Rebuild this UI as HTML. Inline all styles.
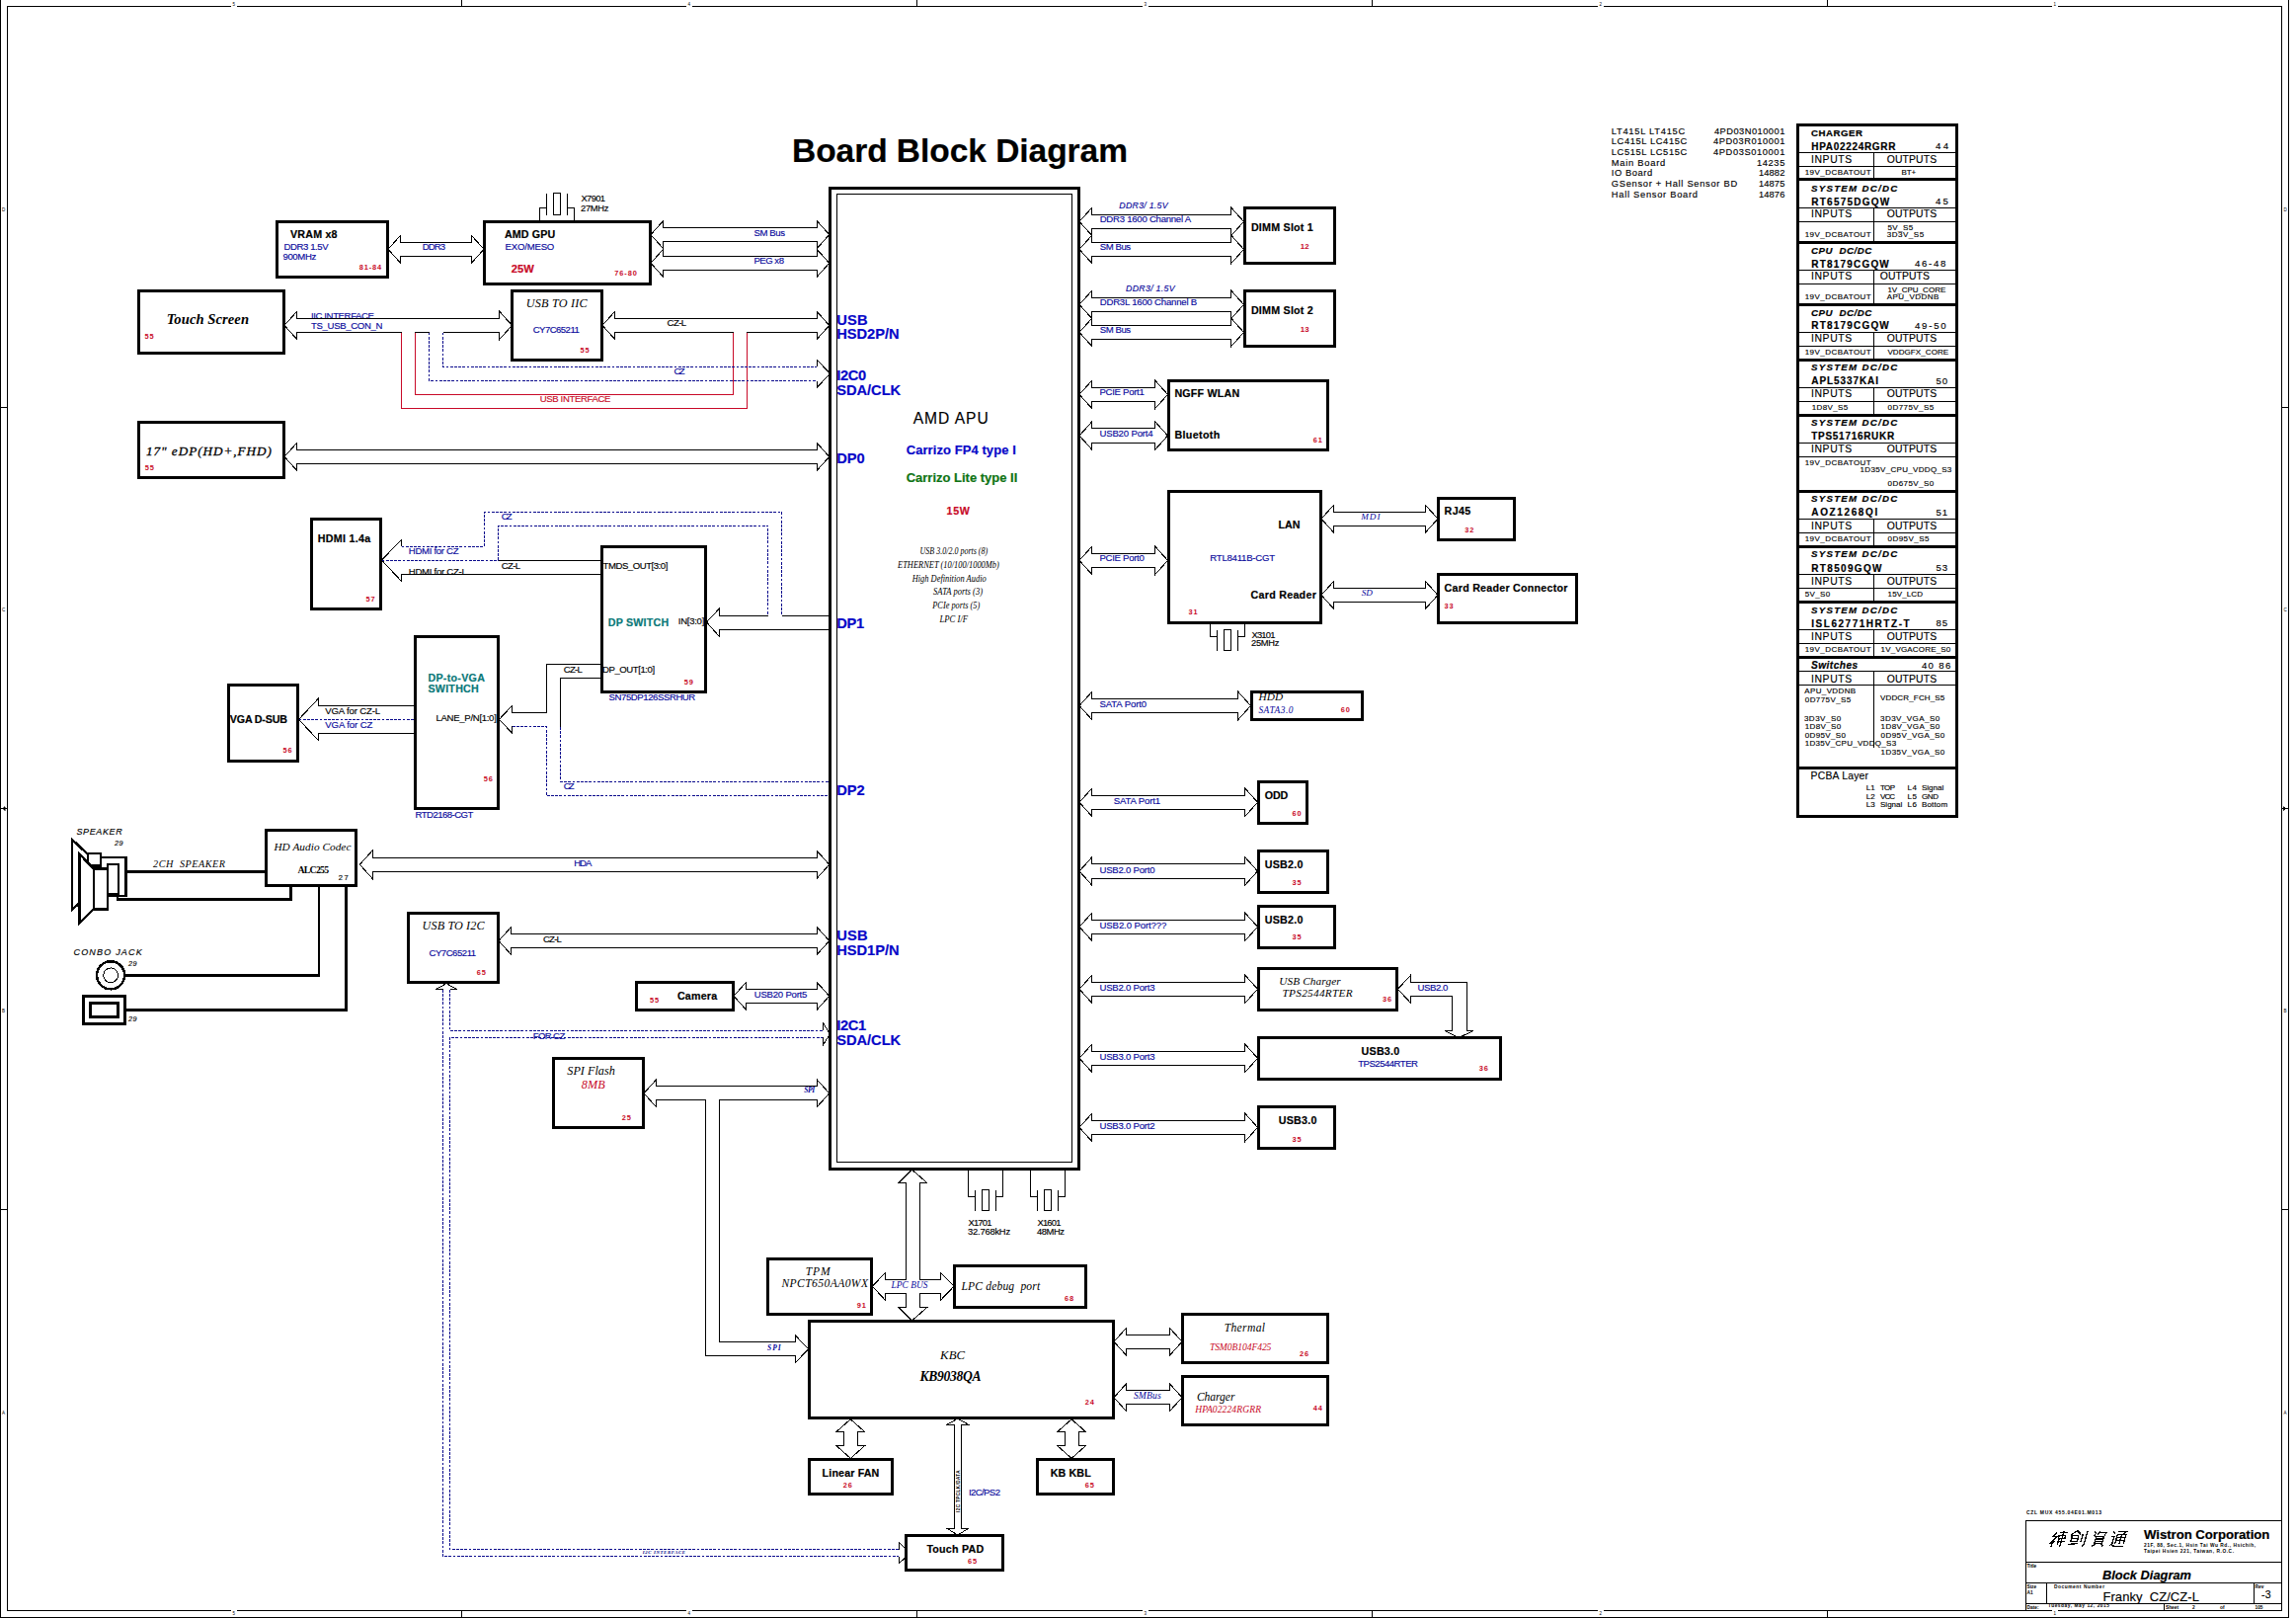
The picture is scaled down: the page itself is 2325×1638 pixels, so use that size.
<!DOCTYPE html>
<html><head><meta charset="utf-8"><title>Board Block Diagram</title>
<style>
html,body{margin:0;padding:0;background:#fff;}
svg{display:block;}
text{white-space:pre;}
.a{font-family:"Liberation Sans",sans-serif;}
.r{font-family:"Liberation Serif",serif;}
</style></head><body>
<svg width="2325" height="1638" viewBox="0 0 2325 1638" shape-rendering="crispEdges">
<rect width="2325" height="1638" fill="#fff"/>
<rect x="7.5" y="6.5" width="2303" height="1624" fill="none" stroke="#000" stroke-width="1"/>
<path d="M0.5,0 V1637.5 H2317.5 V0" fill="none" stroke="#000" stroke-width="1"/>
<path d="M467.5,0 V6.5 M467.5,1630.5 V1637.5" fill="none" stroke="#000" stroke-width="1"/>
<path d="M928.5,0 V6.5 M928.5,1630.5 V1637.5" fill="none" stroke="#000" stroke-width="1"/>
<path d="M1389.5,0 V6.5 M1389.5,1630.5 V1637.5" fill="none" stroke="#000" stroke-width="1"/>
<path d="M1850.5,0 V6.5 M1850.5,1630.5 V1637.5" fill="none" stroke="#000" stroke-width="1"/>
<path d="M0,412.5 H7.5 M2310.5,412.5 H2317.5" fill="none" stroke="#000" stroke-width="1"/>
<path d="M0,1224.5 H7.5 M2310.5,1224.5 H2317.5" fill="none" stroke="#000" stroke-width="1"/>
<path d="M0,818.5 H7.5 M2310.5,818.5 H2317.5" fill="none" stroke="#000" stroke-width="1"/>
<path d="M2,818.5 l3,-2 v4 z M2315,818.5 l-3,-2 v4 z" fill="#000" stroke="#000" stroke-width="0.5"/>
<rect x="234" y="5" width="6" height="3" fill="#fff"/><rect x="234" y="1629" width="6" height="3" fill="#fff"/>
<text x="235.5" y="5.5" class="a" font-size="4.5">5</text>
<text x="235.5" y="1634.5" class="a" font-size="4.5">5</text>
<rect x="695" y="5" width="6" height="3" fill="#fff"/><rect x="695" y="1629" width="6" height="3" fill="#fff"/>
<text x="696.5" y="5.5" class="a" font-size="4.5">4</text>
<text x="696.5" y="1634.5" class="a" font-size="4.5">4</text>
<rect x="1157" y="5" width="6" height="3" fill="#fff"/><rect x="1157" y="1629" width="6" height="3" fill="#fff"/>
<text x="1158.5" y="5.5" class="a" font-size="4.5">3</text>
<text x="1158.5" y="1634.5" class="a" font-size="4.5">3</text>
<rect x="1618" y="5" width="6" height="3" fill="#fff"/><rect x="1618" y="1629" width="6" height="3" fill="#fff"/>
<text x="1619.5" y="5.5" class="a" font-size="4.5">2</text>
<text x="1619.5" y="1634.5" class="a" font-size="4.5">2</text>
<rect x="2078" y="5" width="6" height="3" fill="#fff"/><rect x="2078" y="1629" width="6" height="3" fill="#fff"/>
<text x="2079.5" y="5.5" class="a" font-size="4.5">1</text>
<text x="2079.5" y="1634.5" class="a" font-size="4.5">1</text>
<text x="2.0" y="213.5" class="a" font-size="4.5">D</text>
<text x="2312.5" y="213.5" class="a" font-size="4.5">D</text>
<text x="2.0" y="618.5" class="a" font-size="4.5">C</text>
<text x="2312.5" y="618.5" class="a" font-size="4.5">C</text>
<text x="2.0" y="1024.5" class="a" font-size="4.5">B</text>
<text x="2312.5" y="1024.5" class="a" font-size="4.5">B</text>
<text x="2.0" y="1431.5" class="a" font-size="4.5">A</text>
<text x="2312.5" y="1431.5" class="a" font-size="4.5">A</text>
<text x="802.0" y="163.5" class="a" font-size="33.5" font-weight="bold" textLength="340.0" stroke="#000" stroke-width="0.2">Board Block Diagram</text>
<path d="M393.0,252.3 L405.8,238.1 L405.8,245.2 L477.2,245.2 L477.2,238.1 L490.0,252.3 L477.2,266.5 L477.2,259.4 L405.8,259.4 L405.8,266.5 Z" fill="#fff" stroke="#000" stroke-width="1"/>
<text x="427.7" y="252.6" class="a" font-size="9.6" fill="#0a0a9c" textLength="23.5" stroke="#0a0a9c" stroke-width="0.15">DDR3</text>
<path d="M659.0,237.6 L671.8,223.4 L671.8,230.5 L827.0,230.5 L827.0,223.4 L839.8,237.6 L827.0,251.8 L827.0,244.7 L671.8,244.7 L671.8,251.8 Z" fill="#fff" stroke="#000" stroke-width="1"/>
<path d="M659.0,266.3 L671.8,252.1 L671.8,259.2 L827.0,259.2 L827.0,252.1 L839.8,266.3 L827.0,280.5 L827.0,273.4 L671.8,273.4 L671.8,280.5 Z" fill="#fff" stroke="#000" stroke-width="1"/>
<text x="763.4" y="238.5" class="a" font-size="9.6" fill="#0a0a9c" textLength="31.7" stroke="#0a0a9c" stroke-width="0.15">SM Bus</text>
<text x="763.4" y="266.6" class="a" font-size="9.6" fill="#0a0a9c" textLength="30.6" stroke="#0a0a9c" stroke-width="0.15">PEG x8</text>
<path d="M546.5,224 V210.5 H553.5 M581.5,224 V210.5 H574.5 M553.5,195.5 V217.5 M574.5,195.5 V217.5" fill="none" stroke="#000" stroke-width="1"/>
<rect x="560.5" y="195.5" width="7.0" height="22.0" fill="none" stroke="#000" stroke-width="1"/>
<text x="588.5" y="203.8" class="a" font-size="9.4" textLength="24.5" stroke="#000" stroke-width="0.15">X7901</text>
<text x="588.0" y="213.7" class="a" font-size="9.4" textLength="28.5" stroke="#000" stroke-width="0.15">27MHz</text>
<rect x="280.5" y="224.5" width="112.0" height="56.0" fill="none" stroke="#000" stroke-width="3"/>
<text x="294.0" y="240.7" class="a" font-size="10.7" font-weight="bold" textLength="47.5" stroke="#000" stroke-width="0.2">VRAM x8</text>
<text x="287.4" y="252.6" class="a" font-size="9.6" fill="#0a0a9c" textLength="45.3" stroke="#0a0a9c" stroke-width="0.15">DDR3 1.5V</text>
<text x="286.5" y="262.5" class="a" font-size="9.6" fill="#0a0a9c" textLength="33.7" stroke="#0a0a9c" stroke-width="0.15">900MHz</text>
<text x="363.7" y="272.5" class="a" font-size="7.4" fill="#c80a28" font-weight="bold" letter-spacing="0.9">81-84</text>
<rect x="490.5" y="224.5" width="168.0" height="63.0" fill="none" stroke="#000" stroke-width="3"/>
<text x="510.9" y="240.7" class="a" font-size="10.7" font-weight="bold" textLength="51.3" stroke="#000" stroke-width="0.2">AMD GPU</text>
<text x="511.5" y="252.6" class="a" font-size="9.6" fill="#0a0a9c" textLength="49.8" stroke="#0a0a9c" stroke-width="0.15">EXO/MESO</text>
<text x="517.7" y="275.9" class="a" font-size="11.2" fill="#c80a28" font-weight="bold" textLength="23.2" stroke="#c80a28" stroke-width="0.2">25W</text>
<text x="622.3" y="279.4" class="a" font-size="7.4" fill="#c80a28" font-weight="bold" letter-spacing="0.9">76-80</text>
<path d="M300.8,343.6 L288,329.4 L300.8,315.2 V322.3 H505.7 V315.2 L518.5,329.4 L505.7,343.6 V336.5 H448.5 M434.9,336.5 H420.1 M406.7,336.5 H300.8 V343.6" fill="none" stroke="#000" stroke-width="1"/>
<text x="315.0" y="323.0" class="a" font-size="9.6" fill="#0a0a9c" textLength="64.0" stroke="#0a0a9c" stroke-width="0.15">IIC INTERFACE</text>
<path d="M300.8,322.3 H505.7" fill="none" stroke="#000" stroke-width="1"/>
<text x="315.0" y="332.9" class="a" font-size="9.6" fill="#0a0a9c" textLength="72.5" stroke="#0a0a9c" stroke-width="0.15">TS_USB_CON_N</text>
<path d="M622.8,343.6 L610,329.4 L622.8,315.2 V322.3 H827.0 V315.2 L839.8,329.4 L827.0,343.6 V336.5 H756.4 M742.5,336.5 H622.8 V343.6" fill="none" stroke="#000" stroke-width="1"/>
<text x="675.6" y="330.0" class="a" font-size="9.6" textLength="19.5" stroke="#000" stroke-width="0.15">CZ-L</text>
<path d="M406.7,336.5 V413.9 H756.4 V336.5" fill="none" stroke="#c80a28" stroke-width="1"/>
<path d="M420.1,336.5 V399.5 H742.5 V336.5" fill="none" stroke="#c80a28" stroke-width="1"/>
<text x="546.7" y="407.0" class="a" font-size="9.6" fill="#c80a28" textLength="71.8" stroke="#c80a28" stroke-width="0.15">USB INTERFACE</text>
<path d="M434.9,336.5 V385.5 H827" fill="none" stroke="#0a0a8c" stroke-width="1" stroke-dasharray="2.8 1.4"/>
<path d="M448.5,336.5 V371.2 H827" fill="none" stroke="#0a0a8c" stroke-width="1" stroke-dasharray="2.8 1.4"/>
<path d="M827.5,371.2 V364.3 L840.5,378.3 L827.5,392.2 V385.5" fill="none" stroke="#000" stroke-width="1"/>
<text x="682.6" y="379.1" class="a" font-size="9.6" fill="#0a0a9c" textLength="10.9" stroke="#0a0a9c" stroke-width="0.15">CZ</text>
<rect x="140.5" y="294.5" width="147.0" height="63.0" fill="none" stroke="#000" stroke-width="3"/>
<text x="168.7" y="327.7" class="r" font-size="14.6" font-weight="bold" font-style="italic" textLength="83.3">Touch Screen</text>
<text x="146.6" y="342.8" class="a" font-size="7.4" fill="#c80a28" font-weight="bold" letter-spacing="0.9">55</text>
<rect x="518.5" y="294.5" width="91.0" height="70.0" fill="none" stroke="#000" stroke-width="3"/>
<text x="532.8" y="310.8" class="r" font-size="12.2" font-style="italic" textLength="61.8">USB TO IIC</text>
<text x="539.7" y="336.9" class="a" font-size="9.6" fill="#0a0a9c" textLength="47.1" stroke="#0a0a9c" stroke-width="0.15">CY7C65211</text>
<text x="587.6" y="356.8" class="a" font-size="7.4" fill="#c80a28" font-weight="bold" letter-spacing="0.9">55</text>
<path d="M288.0,462.4 L300.8,448.2 L300.8,455.3 L827.0,455.3 L827.0,448.2 L839.8,462.4 L827.0,476.6 L827.0,469.5 L300.8,469.5 L300.8,476.6 Z" fill="#fff" stroke="#000" stroke-width="1"/>
<rect x="140.5" y="427.5" width="147.0" height="56.0" fill="none" stroke="#000" stroke-width="3"/>
<text x="148.0" y="460.7" class="r" font-size="13.2" font-style="italic" textLength="127.0" stroke="#000" stroke-width="0.3">17" eDP(HD+,FHD)</text>
<text x="146.7" y="475.8" class="a" font-size="7.4" fill="#c80a28" font-weight="bold" letter-spacing="0.9">55</text>
<path d="M406.6,553.1 V546.2 L386.5,567.1 L406.6,588.5 V581.4 H609" fill="none" stroke="#000" stroke-width="1"/>
<path d="M504.2,567.1 H609" fill="none" stroke="#000" stroke-width="1"/>
<path d="M406.6,553.1 H490.8 V518.3 H791.7 V623.3" fill="none" stroke="#0a0a8c" stroke-width="1" stroke-dasharray="2.8 1.4"/>
<path d="M386.5,567.1 H504.2 V532.4 H777.8 V623.3" fill="none" stroke="#0a0a8c" stroke-width="1" stroke-dasharray="2.8 1.4"/>
<text x="507.7" y="525.8" class="a" font-size="9.6" fill="#0a0a9c" textLength="10.9" stroke="#0a0a9c" stroke-width="0.15">CZ</text>
<text x="413.8" y="560.6" class="a" font-size="9.6" fill="#0a0a9c" textLength="50.8" stroke="#0a0a9c" stroke-width="0.15">HDMI for CZ</text>
<text x="507.7" y="575.8" class="a" font-size="9.6" textLength="19.5" stroke="#000" stroke-width="0.15">CZ-L</text>
<text x="413.8" y="582.4" class="a" font-size="9.6" textLength="59.0" stroke="#000" stroke-width="0.15">HDMI for CZ-L</text>
<path d="M406.6,581.4 H480" fill="none" stroke="#000" stroke-width="1"/>
<rect x="315.5" y="525.5" width="70.0" height="91.0" fill="none" stroke="#000" stroke-width="3"/>
<text x="321.8" y="548.8" class="a" font-size="10.7" font-weight="bold" textLength="53.5" stroke="#000" stroke-width="0.2">HDMI 1.4a</text>
<text x="370.6" y="608.9" class="a" font-size="7.4" fill="#c80a28" font-weight="bold" letter-spacing="0.9">57</text>
<path d="M791.7,623.3 H841 M841,637.6 H728.6 V644.6 L715.5,629.9 L728.6,615.9 V623.3 H777.8" fill="none" stroke="#000" stroke-width="1"/>
<rect x="609.5" y="553.5" width="105.0" height="147.0" fill="none" stroke="#000" stroke-width="3"/>
<text x="610.6" y="575.8" class="a" font-size="9.6" textLength="65.7" stroke="#000" stroke-width="0.15">TMDS_OUT[3:0]</text>
<text x="615.7" y="634.1" class="a" font-size="10.7" fill="#0a7878" font-weight="bold" textLength="61.5" stroke="#0a7878" stroke-width="0.2">DP SWITCH</text>
<text x="686.8" y="631.9" class="a" font-size="9.6" textLength="26.5" stroke="#000" stroke-width="0.15">IN[3:0]</text>
<text x="610.0" y="681.2" class="a" font-size="9.6" textLength="53.1" stroke="#000" stroke-width="0.15">DP_OUT[1:0]</text>
<text x="692.8" y="692.5" class="a" font-size="7.4" fill="#c80a28" font-weight="bold" letter-spacing="0.9">59</text>
<text x="616.6" y="708.7" class="a" font-size="9.6" fill="#0a0a9c" textLength="87.7" stroke="#0a0a9c" stroke-width="0.15">SN75DP126SSRHUR</text>
<path d="M609,672.4 H553.3 V721.1 H518.8 V714.1 L505.5,728.4 L518.8,742.4 V735.4" fill="none" stroke="#000" stroke-width="1"/>
<path d="M609,686.4 H567.3 V736" fill="none" stroke="#000" stroke-width="1"/>
<path d="M518.8,735.4 H553.3 V805.4 H841" fill="none" stroke="#0a0a8c" stroke-width="1" stroke-dasharray="2.8 1.4"/>
<path d="M567.3,736 V791 H841" fill="none" stroke="#0a0a8c" stroke-width="1" stroke-dasharray="2.8 1.4"/>
<text x="570.7" y="680.5" class="a" font-size="9.6" textLength="19.2" stroke="#000" stroke-width="0.15">CZ-L</text>
<text x="570.7" y="799.3" class="a" font-size="9.6" fill="#0a0a9c" textLength="10.9" stroke="#0a0a9c" stroke-width="0.15">CZ</text>
<rect x="420.5" y="644.5" width="84.0" height="174.0" fill="none" stroke="#000" stroke-width="3"/>
<text x="433.4" y="689.8" class="a" font-size="10.7" fill="#0a7878" font-weight="bold" textLength="57.5" stroke="#0a7878" stroke-width="0.2">DP-to-VGA</text>
<text x="433.4" y="700.6" class="a" font-size="10.7" fill="#0a7878" font-weight="bold" textLength="51.4" stroke="#0a7878" stroke-width="0.2">SWITHCH</text>
<text x="441.5" y="729.7" class="a" font-size="9.6" textLength="61.3" stroke="#000" stroke-width="0.15">LANE_P/N[1:0]</text>
<text x="489.7" y="790.6" class="a" font-size="7.4" fill="#c80a28" font-weight="bold" letter-spacing="0.9">56</text>
<text x="420.6" y="827.7" class="a" font-size="9.6" fill="#0a0a9c" textLength="58.7" stroke="#0a0a9c" stroke-width="0.15">RTD2168-CGT</text>
<path d="M420,714.4 H322.5 V707.1 L302.5,728.4 L322.5,749.6 V742.3 H420" fill="none" stroke="#000" stroke-width="1"/>
<path d="M302.5,728.4 H420" fill="none" stroke="#0a0a8c" stroke-width="1" stroke-dasharray="2.8 1.4"/>
<text x="329.3" y="722.6" class="a" font-size="9.6" textLength="55.7" stroke="#000" stroke-width="0.15">VGA for CZ-L</text>
<text x="329.3" y="736.7" class="a" font-size="9.6" fill="#0a0a9c" textLength="48.1" stroke="#0a0a9c" stroke-width="0.15">VGA for CZ</text>
<rect x="231.5" y="693.5" width="70.0" height="77.0" fill="none" stroke="#000" stroke-width="3"/>
<text x="232.8" y="731.8" class="a" font-size="10.7" font-weight="bold" textLength="58.1" stroke="#000" stroke-width="0.2">VGA D-SUB</text>
<text x="286.6" y="762.3" class="a" font-size="7.4" fill="#c80a28" font-weight="bold" letter-spacing="0.9">56</text>
<text x="847.2" y="328.6" class="a" font-size="14.7" fill="#0808c8" font-weight="bold" textLength="31.5" stroke="#0808c8" stroke-width="0.2">USB</text>
<text x="847.2" y="343.4" class="a" font-size="14.7" fill="#0808c8" font-weight="bold" textLength="63.5" stroke="#0808c8" stroke-width="0.2">HSD2P/N</text>
<text x="847.2" y="384.7" class="a" font-size="14.7" fill="#0808c8" font-weight="bold" textLength="30.0" stroke="#0808c8" stroke-width="0.2">I2C0</text>
<text x="847.2" y="399.5" class="a" font-size="14.7" fill="#0808c8" font-weight="bold" textLength="65.0" stroke="#0808c8" stroke-width="0.2">SDA/CLK</text>
<text x="847.2" y="468.6" class="a" font-size="14.7" fill="#0808c8" font-weight="bold" textLength="28.5" stroke="#0808c8" stroke-width="0.2">DP0</text>
<text x="847.2" y="636.4" class="a" font-size="14.7" fill="#0808c8" font-weight="bold" textLength="28.0" stroke="#0808c8" stroke-width="0.2">DP1</text>
<text x="847.2" y="804.8" class="a" font-size="14.7" fill="#0808c8" font-weight="bold" textLength="28.5" stroke="#0808c8" stroke-width="0.2">DP2</text>
<text x="847.2" y="951.8" class="a" font-size="14.7" fill="#0808c8" font-weight="bold" textLength="31.5" stroke="#0808c8" stroke-width="0.2">USB</text>
<text x="847.2" y="967.2" class="a" font-size="14.7" fill="#0808c8" font-weight="bold" textLength="63.5" stroke="#0808c8" stroke-width="0.2">HSD1P/N</text>
<text x="847.2" y="1042.8" class="a" font-size="14.7" fill="#0808c8" font-weight="bold" textLength="30.0" stroke="#0808c8" stroke-width="0.2">I2C1</text>
<text x="847.2" y="1058.1" class="a" font-size="14.7" fill="#0808c8" font-weight="bold" textLength="65.0" stroke="#0808c8" stroke-width="0.2">SDA/CLK</text>
<path d="M127.4,882.6 H269" fill="none" stroke="#000" stroke-width="2.5" stroke-linejoin="miter"/>
<path d="M119.2,905.5 V910.7 H294.3 V897" fill="none" stroke="#000" stroke-width="2.5" stroke-linejoin="miter"/>
<path d="M322.8,897 V987.3 H127.4" fill="none" stroke="#000" stroke-width="2.5" stroke-linejoin="miter"/>
<path d="M350.5,897 V1022.5 H127.4" fill="none" stroke="#000" stroke-width="2.5" stroke-linejoin="miter"/>
<path d="M88.9,864.8 L73,850 V920.6 L80.4,914.5" fill="none" stroke="#000" stroke-width="2.5" stroke-linejoin="miter" fill="none"/>
<rect x="88.9" y="864" width="13.3" height="12.6" fill="#fff" stroke="#000" stroke-width="2.5"/>
<rect x="102.2" y="868.2" width="25.2" height="38.8" fill="#fff" stroke="#000" stroke-width="2.5"/>
<rect x="108.9" y="875.2" width="11.1" height="30.3" fill="#fff" stroke="#000" stroke-width="2.5"/>
<path d="M94.8,879.6 L80.4,864.4 V934.8 L94.8,920 Z" fill="#fff" stroke="#000" stroke-width="2.5"/>
<rect x="94.8" y="879.6" width="14.1" height="41" fill="#fff" stroke="#000" stroke-width="2.5"/>
<circle cx="112.1" cy="987.3" r="14" fill="#fff" stroke="#000" stroke-width="2.5"/>
<circle cx="112.1" cy="987.3" r="7.4" fill="none" stroke="#000" stroke-width="1"/>
<rect x="84.6" y="1008.6" width="42" height="27.8" fill="#fff" stroke="#000" stroke-width="2.5"/>
<rect x="91.6" y="1015.6" width="28" height="14" fill="#fff" stroke="#000" stroke-width="2.5"/>
<text x="77.5" y="844.8" class="a" font-size="9" font-style="italic" textLength="46.2" stroke="#000" stroke-width="0.15">SPEAKER</text>
<text x="116.0" y="855.9" class="a" font-size="7.2" font-style="italic" textLength="8.5" stroke="#000" stroke-width="0.15">29</text>
<text x="155.1" y="878.1" class="r" font-size="10.2" font-style="italic" textLength="73.0">2CH  SPEAKER</text>
<text x="74.5" y="967.0" class="a" font-size="9" font-style="italic" textLength="69.2" stroke="#000" stroke-width="0.15">CONBO JACK</text>
<text x="129.9" y="977.6" class="a" font-size="7.2" font-style="italic" textLength="8.5" stroke="#000" stroke-width="0.15">29</text>
<text x="129.9" y="1033.6" class="a" font-size="7.2" font-style="italic" textLength="8.5" stroke="#000" stroke-width="0.15">29</text>
<rect x="269.3" y="840.3" width="91.4" height="56.4" fill="none" stroke="#000" stroke-width="2.6"/>
<text x="277.4" y="861.1" class="r" font-size="11.3" font-style="italic" textLength="78.0">HD Audio Codec</text>
<text x="301.4" y="884.0" class="r" font-size="9.8" font-weight="bold" textLength="31.8">ALC255</text>
<text x="342.8" y="890.7" class="a" font-size="7.6" stroke="#000" stroke-width="0.15" letter-spacing="1.4">27</text>
<path d="M364.3,875.3 L377.1,861.1 L377.1,868.2 L827.0,868.2 L827.0,861.1 L839.8,875.3 L827.0,889.5 L827.0,882.4 L377.1,882.4 L377.1,889.5 Z" fill="#fff" stroke="#000" stroke-width="1"/>
<text x="581.2" y="877.3" class="a" font-size="9.6" fill="#0a0a9c" textLength="18.1" stroke="#0a0a9c" stroke-width="0.15">HDA</text>
<path d="M505.0,952.5 L517.8,938.3 L517.8,945.4 L827.0,945.4 L827.0,938.3 L839.8,952.5 L827.0,966.7 L827.0,959.6 L517.8,959.6 L517.8,966.7 Z" fill="#fff" stroke="#000" stroke-width="1"/>
<text x="549.9" y="954.1" class="a" font-size="9.6" textLength="19.0" stroke="#000" stroke-width="0.15">CZ-L</text>
<rect x="413.5" y="924.5" width="91.0" height="70.0" fill="none" stroke="#000" stroke-width="3"/>
<text x="427.6" y="940.7" class="r" font-size="12.2" font-style="italic" textLength="63.0">USB TO I2C</text>
<text x="434.5" y="967.7" class="a" font-size="9.6" fill="#0a0a9c" textLength="47.6" stroke="#0a0a9c" stroke-width="0.15">CY7C65211</text>
<text x="482.7" y="986.6" class="a" font-size="7.4" fill="#c80a28" font-weight="bold" letter-spacing="0.9">65</text>
<path d="M743.0,1008.3 L755.8,994.1 L755.8,1001.2 L827.0,1001.2 L827.0,994.1 L839.8,1008.3 L827.0,1022.5 L827.0,1015.4 L755.8,1015.4 L755.8,1022.5 Z" fill="#fff" stroke="#000" stroke-width="1"/>
<text x="763.7" y="1009.8" class="a" font-size="9.6" fill="#0a0a9c" textLength="53.7" stroke="#0a0a9c" stroke-width="0.15">USB20 Port5</text>
<rect x="644.5" y="994.5" width="98.0" height="28.0" fill="none" stroke="#000" stroke-width="3"/>
<text x="685.9" y="1011.8" class="a" font-size="10.7" font-weight="bold" textLength="40.3" stroke="#000" stroke-width="0.2">Camera</text>
<text x="657.9" y="1014.8" class="a" font-size="7.4" fill="#c80a28" font-weight="bold" letter-spacing="0.9">55</text>
<path d="M448.5,1001.8 V1575.5 H910.4" fill="none" stroke="#0a0a8c" stroke-width="1" stroke-dasharray="2.8 1.4"/>
<path d="M455.5,1001.8 V1043.3 H833.8" fill="none" stroke="#0a0a8c" stroke-width="1" stroke-dasharray="2.8 1.4"/>
<path d="M833.8,1050.3 H455.5 V1568.5 H910.4" fill="none" stroke="#0a0a8c" stroke-width="1" stroke-dasharray="2.8 1.4"/>
<path d="M448.5,1001.8 H441.1 L452,995.5 L462.8,1001.8 H455.5" fill="none" stroke="#000" stroke-width="1"/>
<path d="M833.8,1043.3 V1036.2 L840.5,1046.8 L833.8,1057.3 V1050.3" fill="none" stroke="#000" stroke-width="1"/>
<path d="M910.4,1568.5 V1561.8 L917,1567.5 M910.4,1575.5 V1582.5 L917,1576.8" fill="none" stroke="#000" stroke-width="1"/>
<text x="539.7" y="1051.7" class="a" font-size="9.6" fill="#0a0a9c" textLength="32.6" stroke="#0a0a9c" stroke-width="0.15">FOR CZ</text>
<text x="650.8" y="1572.9" class="r" font-size="4.8" fill="#0a0a8c" font-weight="bold" font-style="italic" textLength="43.2">I2C INTERFACE</text>
<path d="M664.8,1121.0 L652,1106.8 L664.8,1092.6 V1099.7 H827.0 V1092.6 L839.8,1106.8 L827.0,1121.0 V1113.9 H728.4 V1358.3 H805.6 V1352.1 L818.5,1365.8 L805.6,1379.5 V1372.5 H714.4 V1113.9 H664.8 Z" fill="none" stroke="#000" stroke-width="1"/>
<text x="814.3" y="1106.4" class="r" font-size="7.5" fill="#0a0a9c" font-weight="bold" font-style="italic" textLength="10.9">SPI</text>
<text x="777.1" y="1366.7" class="r" font-size="7.5" fill="#0a0a9c" font-weight="bold" font-style="italic" textLength="13.5">SPI</text>
<rect x="560.5" y="1071.5" width="91.0" height="70.0" fill="none" stroke="#000" stroke-width="3"/>
<text x="574.3" y="1087.7" class="r" font-size="12.2" font-style="italic" textLength="48.5">SPI Flash</text>
<text x="588.7" y="1101.8" class="r" font-size="12.2" fill="#c80a28" font-style="italic" textLength="24.1">8MB</text>
<text x="629.8" y="1133.8" class="a" font-size="7.4" fill="#c80a28" font-weight="bold" letter-spacing="0.9">25</text>
<rect x="840.5" y="190.5" width="252.0" height="993.0" fill="none" stroke="#000" stroke-width="3"/>
<rect x="847.5" y="196.5" width="238" height="980" fill="none" stroke="#000" stroke-width="1"/>
<text x="924.7" y="428.5" class="a" font-size="15.6" textLength="76.0" stroke="#000" stroke-width="0.15">AMD APU</text>
<text x="917.7" y="459.5" class="a" font-size="13" fill="#0808c8" font-weight="bold" textLength="111.1" stroke="#0808c8" stroke-width="0.2">Carrizo FP4 type I</text>
<text x="917.7" y="487.6" class="a" font-size="13" fill="#0f7414" font-weight="bold" textLength="112.6" stroke="#0f7414" stroke-width="0.2">Carrizo Lite type II</text>
<text x="958.6" y="520.5" class="a" font-size="10.7" fill="#c80a28" font-weight="bold" textLength="23.2" stroke="#c80a28" stroke-width="0.2">15W</text>
<text x="931.5" y="560.7" class="r" font-size="9.6" font-style="italic" textLength="68.7" lengthAdjust="spacingAndGlyphs">USB 3.0/2.0 ports (8)</text>
<text x="909.0" y="574.9" class="r" font-size="9.6" font-style="italic" textLength="102.8" lengthAdjust="spacingAndGlyphs">ETHERNET (10/100/1000Mb)</text>
<text x="923.7" y="588.5" class="r" font-size="9.6" font-style="italic" textLength="75.0" lengthAdjust="spacingAndGlyphs">High Definition Audio</text>
<text x="945.0" y="602.4" class="r" font-size="9.6" font-style="italic" textLength="50.0" lengthAdjust="spacingAndGlyphs">SATA ports (3)</text>
<text x="944.3" y="616.3" class="r" font-size="9.6" font-style="italic" textLength="47.9" lengthAdjust="spacingAndGlyphs">PCIe ports (5)</text>
<text x="951.5" y="630.2" class="r" font-size="9.6" font-style="italic" textLength="28.6" lengthAdjust="spacingAndGlyphs">LPC I/F</text>
<path d="M980.5,1184 V1211.5 H987.5 M1015.5,1184 V1211.5 H1008.5 M987.5,1204.5 V1225.5 M1008.5,1204.5 V1225.5" fill="none" stroke="#000" stroke-width="1"/>
<rect x="994.5" y="1204.5" width="7.0" height="21.0" fill="none" stroke="#000" stroke-width="1"/>
<path d="M1043.5,1184 V1211.5 H1050.5 M1078.5,1184 V1211.5 H1071.5 M1050.5,1204.5 V1225.5 M1071.5,1204.5 V1225.5" fill="none" stroke="#000" stroke-width="1"/>
<rect x="1057.5" y="1204.5" width="7.0" height="21.0" fill="none" stroke="#000" stroke-width="1"/>
<text x="980.4" y="1240.6" class="a" font-size="9.4" textLength="24.1" stroke="#000" stroke-width="0.15">X1701</text>
<text x="980.0" y="1249.6" class="a" font-size="9.4" textLength="43.1" stroke="#000" stroke-width="0.15">32.768kHz</text>
<text x="1050.4" y="1240.6" class="a" font-size="9.4" textLength="24.1" stroke="#000" stroke-width="0.15">X1601</text>
<text x="1050.0" y="1249.6" class="a" font-size="9.4" textLength="27.9" stroke="#000" stroke-width="0.15">48MHz</text>
<path d="M1093.0,224.4 L1105.8,210.2 L1105.8,217.3 L1246.7,217.3 L1246.7,210.2 L1259.5,224.4 L1246.7,238.6 L1246.7,231.5 L1105.8,231.5 L1105.8,238.6 Z" fill="#fff" stroke="#000" stroke-width="1"/>
<path d="M1093.0,252.4 L1105.8,238.2 L1105.8,245.3 L1246.7,245.3 L1246.7,238.2 L1259.5,252.4 L1246.7,266.6 L1246.7,259.5 L1105.8,259.5 L1105.8,266.6 Z" fill="#fff" stroke="#000" stroke-width="1"/>
<path d="M1093.0,308.4 L1105.8,294.2 L1105.8,301.3 L1246.7,301.3 L1246.7,294.2 L1259.5,308.4 L1246.7,322.6 L1246.7,315.5 L1105.8,315.5 L1105.8,322.6 Z" fill="#fff" stroke="#000" stroke-width="1"/>
<path d="M1093.0,336.4 L1105.8,322.2 L1105.8,329.3 L1246.7,329.3 L1246.7,322.2 L1259.5,336.4 L1246.7,350.6 L1246.7,343.5 L1105.8,343.5 L1105.8,350.6 Z" fill="#fff" stroke="#000" stroke-width="1"/>
<text x="1133.3" y="210.9" class="a" font-size="8.8" fill="#0a0a9c" font-style="italic" textLength="49.3" stroke="#0a0a9c" stroke-width="0.15">DDR3/ 1.5V</text>
<text x="1113.7" y="225.0" class="a" font-size="9.6" fill="#0a0a9c" textLength="92.4" stroke="#0a0a9c" stroke-width="0.15">DDR3 1600 Channel A</text>
<text x="1113.7" y="252.7" class="a" font-size="9.6" fill="#0a0a9c" textLength="31.4" stroke="#0a0a9c" stroke-width="0.15">SM Bus</text>
<text x="1140.1" y="294.9" class="a" font-size="8.8" fill="#0a0a9c" font-style="italic" textLength="49.4" stroke="#0a0a9c" stroke-width="0.15">DDR3/ 1.5V</text>
<text x="1113.7" y="308.9" class="a" font-size="9.6" fill="#0a0a9c" textLength="98.5" stroke="#0a0a9c" stroke-width="0.15">DDR3L 1600 Channel B</text>
<text x="1113.7" y="336.6" class="a" font-size="9.6" fill="#0a0a9c" textLength="31.4" stroke="#0a0a9c" stroke-width="0.15">SM Bus</text>
<rect x="1260.5" y="210.5" width="91.0" height="56.0" fill="none" stroke="#000" stroke-width="3"/>
<text x="1266.9" y="233.8" class="a" font-size="10.7" font-weight="bold" textLength="62.9" stroke="#000" stroke-width="0.2">DIMM Slot 1</text>
<text x="1316.8" y="252.1" class="a" font-size="7.8" fill="#c80a28" font-weight="bold">12</text>
<rect x="1260.5" y="294.5" width="91.0" height="56.0" fill="none" stroke="#000" stroke-width="3"/>
<text x="1266.9" y="317.8" class="a" font-size="10.7" font-weight="bold" textLength="62.9" stroke="#000" stroke-width="0.2">DIMM Slot 2</text>
<text x="1316.8" y="335.7" class="a" font-size="7.8" fill="#c80a28" font-weight="bold">13</text>
<path d="M1093.0,399.4 L1105.8,385.2 L1105.8,392.3 L1169.7,392.3 L1169.7,385.2 L1182.5,399.4 L1169.7,413.6 L1169.7,406.5 L1105.8,406.5 L1105.8,413.6 Z" fill="#fff" stroke="#000" stroke-width="1"/>
<text x="1113.4" y="400.1" class="a" font-size="9.6" fill="#0a0a9c" textLength="45.4" stroke="#0a0a9c" stroke-width="0.15">PCIE Port1</text>
<path d="M1093.0,441.0 L1105.8,426.8 L1105.8,433.9 L1169.7,433.9 L1169.7,426.8 L1182.5,441.0 L1169.7,455.2 L1169.7,448.1 L1105.8,448.1 L1105.8,455.2 Z" fill="#fff" stroke="#000" stroke-width="1"/>
<text x="1113.4" y="441.7" class="a" font-size="9.6" fill="#0a0a9c" textLength="54.3" stroke="#0a0a9c" stroke-width="0.15">USB20 Port4</text>
<rect x="1183.5" y="385.5" width="161.0" height="70.0" fill="none" stroke="#000" stroke-width="3"/>
<text x="1189.4" y="401.7" class="a" font-size="10.7" font-weight="bold" textLength="65.8" stroke="#000" stroke-width="0.2">NGFF WLAN</text>
<text x="1189.4" y="443.6" class="a" font-size="10.7" font-weight="bold" textLength="45.8" stroke="#000" stroke-width="0.2">Bluetoth</text>
<text x="1329.8" y="447.6" class="a" font-size="7.4" fill="#c80a28" font-weight="bold" letter-spacing="0.9">61</text>
<path d="M1093.0,567.4 L1105.8,553.2 L1105.8,560.3 L1169.7,560.3 L1169.7,553.2 L1182.5,567.4 L1169.7,581.6 L1169.7,574.5 L1105.8,574.5 L1105.8,581.6 Z" fill="#fff" stroke="#000" stroke-width="1"/>
<text x="1113.4" y="567.6" class="a" font-size="9.6" fill="#0a0a9c" textLength="45.4" stroke="#0a0a9c" stroke-width="0.15">PCIE Port0</text>
<path d="M1338.0,525.2 L1350.8,511.0 L1350.8,518.1 L1443.2,518.1 L1443.2,511.0 L1456.0,525.2 L1443.2,539.4 L1443.2,532.3 L1350.8,532.3 L1350.8,539.4 Z" fill="#fff" stroke="#000" stroke-width="1"/>
<path d="M1338.0,602.4 L1350.8,588.2 L1350.8,595.3 L1443.2,595.3 L1443.2,588.2 L1456.0,602.4 L1443.2,616.6 L1443.2,609.5 L1350.8,609.5 L1350.8,616.6 Z" fill="#fff" stroke="#000" stroke-width="1"/>
<text x="1378.2" y="525.7" class="r" font-size="9.2" fill="#0a0a9c" font-style="italic" textLength="19.3">MDI</text>
<text x="1378.7" y="602.8" class="r" font-size="9.2" fill="#0a0a9c" font-style="italic" textLength="11.3">SD</text>
<path d="M1225.5,631 V644 H1232.5 M1260.5,631 V644 H1253.5 M1232.5,637.5 V658.5 M1253.5,637.5 V658.5" fill="none" stroke="#000" stroke-width="1"/>
<rect x="1239.5" y="637.5" width="7.0" height="21.0" fill="none" stroke="#000" stroke-width="1"/>
<text x="1267.4" y="645.6" class="a" font-size="9.4" textLength="24.1" stroke="#000" stroke-width="0.15">X3101</text>
<text x="1267.0" y="654.1" class="a" font-size="9.4" textLength="28.5" stroke="#000" stroke-width="0.15">25MHz</text>
<rect x="1183.5" y="497.5" width="154.0" height="133.0" fill="none" stroke="#000" stroke-width="3"/>
<text x="1294.5" y="535.1" class="a" font-size="10.7" font-weight="bold" textLength="21.9" stroke="#000" stroke-width="0.2">LAN</text>
<text x="1225.3" y="567.6" class="a" font-size="9.6" fill="#0a0a9c" textLength="65.7" stroke="#0a0a9c" stroke-width="0.15">RTL8411B-CGT</text>
<text x="1266.5" y="605.9" class="a" font-size="10.7" font-weight="bold" textLength="66.3" stroke="#000" stroke-width="0.2">Card Reader</text>
<text x="1203.5" y="622.4" class="a" font-size="7.4" fill="#c80a28" font-weight="bold" letter-spacing="0.9">31</text>
<rect x="1456.5" y="504.5" width="77.0" height="42.0" fill="none" stroke="#000" stroke-width="3"/>
<text x="1462.6" y="520.5" class="a" font-size="10.7" font-weight="bold" textLength="26.6" stroke="#000" stroke-width="0.2">RJ45</text>
<text x="1483.3" y="538.9" class="a" font-size="7.4" fill="#c80a28" font-weight="bold" letter-spacing="0.9">32</text>
<rect x="1456.5" y="581.5" width="140.0" height="49.0" fill="none" stroke="#000" stroke-width="3"/>
<text x="1462.6" y="598.6" class="a" font-size="10.7" font-weight="bold" textLength="124.9" stroke="#000" stroke-width="0.2">Card Reader Connector</text>
<text x="1462.6" y="615.8" class="a" font-size="7.4" fill="#c80a28" font-weight="bold" letter-spacing="0.9">33</text>
<path d="M1093.0,714.5 L1105.8,700.3 L1105.8,707.4 L1253.7,707.4 L1253.7,700.3 L1266.5,714.5 L1253.7,728.7 L1253.7,721.6 L1105.8,721.6 L1105.8,728.7 Z" fill="#fff" stroke="#000" stroke-width="1"/>
<text x="1113.5" y="716.0" class="a" font-size="9.6" fill="#0a0a9c" textLength="47.6" stroke="#0a0a9c" stroke-width="0.15">SATA Port0</text>
<rect x="1267.5" y="700.5" width="112.0" height="28.0" fill="none" stroke="#000" stroke-width="3"/>
<text x="1274.4" y="709.3" class="r" font-size="11.3" font-style="italic" textLength="24.7">HDD</text>
<text x="1274.4" y="721.8" class="r" font-size="9.4" fill="#0a0a9c" font-style="italic" textLength="35.0">SATA3.0</text>
<text x="1357.7" y="720.8" class="a" font-size="7.4" fill="#c80a28" font-weight="bold" letter-spacing="0.9">60</text>
<path d="M1093.0,812.3 L1105.8,798.1 L1105.8,805.2 L1260.7,805.2 L1260.7,798.1 L1273.5,812.3 L1260.7,826.5 L1260.7,819.4 L1105.8,819.4 L1105.8,826.5 Z" fill="#fff" stroke="#000" stroke-width="1"/>
<text x="1127.7" y="813.8" class="a" font-size="9.6" fill="#0a0a9c" textLength="47.4" stroke="#0a0a9c" stroke-width="0.15">SATA Port1</text>
<rect x="1274.5" y="791.5" width="49.0" height="42.0" fill="none" stroke="#000" stroke-width="3"/>
<text x="1280.7" y="808.6" class="a" font-size="10.7" font-weight="bold" textLength="23.6" stroke="#000" stroke-width="0.2">ODD</text>
<text x="1308.5" y="825.7" class="a" font-size="7.4" fill="#c80a28" font-weight="bold" letter-spacing="0.9">60</text>
<path d="M1093.0,882.0 L1105.8,867.8 L1105.8,874.9 L1260.7,874.9 L1260.7,867.8 L1273.5,882.0 L1260.7,896.2 L1260.7,889.1 L1105.8,889.1 L1105.8,896.2 Z" fill="#fff" stroke="#000" stroke-width="1"/>
<text x="1113.5" y="883.8" class="a" font-size="9.6" fill="#0a0a9c" textLength="56.0" stroke="#0a0a9c" stroke-width="0.15">USB2.0 Port0</text>
<rect x="1274.5" y="861.5" width="70.0" height="42.0" fill="none" stroke="#000" stroke-width="3"/>
<text x="1280.7" y="878.6" class="a" font-size="10.7" font-weight="bold" textLength="38.7" stroke="#000" stroke-width="0.2">USB2.0</text>
<text x="1308.5" y="895.8" class="a" font-size="7.4" fill="#c80a28" font-weight="bold" letter-spacing="0.9">35</text>
<path d="M1093.0,938.3 L1105.8,924.1 L1105.8,931.2 L1260.7,931.2 L1260.7,924.1 L1273.5,938.3 L1260.7,952.5 L1260.7,945.4 L1105.8,945.4 L1105.8,952.5 Z" fill="#fff" stroke="#000" stroke-width="1"/>
<text x="1113.5" y="939.9" class="a" font-size="9.6" fill="#0a0a9c" textLength="67.9" stroke="#0a0a9c" stroke-width="0.15">USB2.0 Port???</text>
<rect x="1274.5" y="917.5" width="77.0" height="42.0" fill="none" stroke="#000" stroke-width="3"/>
<text x="1280.7" y="934.7" class="a" font-size="10.7" font-weight="bold" textLength="38.7" stroke="#000" stroke-width="0.2">USB2.0</text>
<text x="1308.5" y="951.4" class="a" font-size="7.4" fill="#c80a28" font-weight="bold" letter-spacing="0.9">35</text>
<path d="M1093.0,1001.3 L1105.8,987.1 L1105.8,994.2 L1260.7,994.2 L1260.7,987.1 L1273.5,1001.3 L1260.7,1015.5 L1260.7,1008.4 L1105.8,1008.4 L1105.8,1015.5 Z" fill="#fff" stroke="#000" stroke-width="1"/>
<text x="1113.5" y="1002.9" class="a" font-size="9.6" fill="#0a0a9c" textLength="56.0" stroke="#0a0a9c" stroke-width="0.15">USB2.0 Port3</text>
<path d="M1428.5,1015.4 L1415.5,1001.3 L1428.5,987.2 V994.5 H1485 V1043.6 H1491.9 L1477.3,1050.5 L1463,1043.6 H1470.6 V1008.5 H1428.5 Z" fill="#fff" stroke="#000" stroke-width="1"/>
<text x="1435.4" y="1002.9" class="a" font-size="9.6" fill="#0a0a9c" textLength="31.0" stroke="#0a0a9c" stroke-width="0.15">USB2.0</text>
<rect x="1274.5" y="980.5" width="140.0" height="42.0" fill="none" stroke="#000" stroke-width="3"/>
<text x="1295.3" y="996.6" class="r" font-size="11.3" font-style="italic" textLength="62.4">USB Charger</text>
<text x="1298.5" y="1008.5" class="r" font-size="11.3" font-style="italic" textLength="71.1">TPS2544RTER</text>
<text x="1399.9" y="1014.4" class="a" font-size="7.4" fill="#c80a28" font-weight="bold" letter-spacing="0.9">36</text>
<path d="M1093.0,1071.3 L1105.8,1057.1 L1105.8,1064.2 L1260.7,1064.2 L1260.7,1057.1 L1273.5,1071.3 L1260.7,1085.5 L1260.7,1078.4 L1105.8,1078.4 L1105.8,1085.5 Z" fill="#fff" stroke="#000" stroke-width="1"/>
<text x="1113.5" y="1072.9" class="a" font-size="9.6" fill="#0a0a9c" textLength="56.0" stroke="#0a0a9c" stroke-width="0.15">USB3.0 Port3</text>
<rect x="1274.5" y="1050.5" width="245.0" height="42.0" fill="none" stroke="#000" stroke-width="3"/>
<text x="1378.6" y="1067.7" class="a" font-size="10.7" font-weight="bold" textLength="38.6" stroke="#000" stroke-width="0.2">USB3.0</text>
<text x="1375.2" y="1079.8" class="a" font-size="9.6" fill="#0a0a9c" textLength="60.8" stroke="#0a0a9c" stroke-width="0.15">TPS2544RTER</text>
<text x="1497.7" y="1084.4" class="a" font-size="7.4" fill="#c80a28" font-weight="bold" letter-spacing="0.9">36</text>
<path d="M1093.0,1141.4 L1105.8,1127.2 L1105.8,1134.3 L1260.7,1134.3 L1260.7,1127.2 L1273.5,1141.4 L1260.7,1155.6 L1260.7,1148.5 L1105.8,1148.5 L1105.8,1155.6 Z" fill="#fff" stroke="#000" stroke-width="1"/>
<text x="1113.5" y="1142.9" class="a" font-size="9.6" fill="#0a0a9c" textLength="56.0" stroke="#0a0a9c" stroke-width="0.15">USB3.0 Port2</text>
<rect x="1274.5" y="1120.5" width="77.0" height="42.0" fill="none" stroke="#000" stroke-width="3"/>
<text x="1294.7" y="1137.7" class="a" font-size="10.7" font-weight="bold" textLength="38.7" stroke="#000" stroke-width="0.2">USB3.0</text>
<text x="1308.5" y="1155.5" class="a" font-size="7.4" fill="#c80a28" font-weight="bold" letter-spacing="0.9">35</text>
<path d="M923.4,1184 L938.6,1197.4 H931.6 V1295.1 H952.5 V1288.5 L966,1302.2 L952.5,1316.3 V1309.4 H931.6 V1323.7 H938.6 L923.4,1337 L910.2,1323.7 H917.7 V1309.4 H896.4 V1316.3 L883.5,1302.2 L896.4,1288.5 V1295.1 H917.7 V1197.4 H910.2 Z" fill="#fff" stroke="#000" stroke-width="1"/>
<text x="902.5" y="1303.8" class="r" font-size="9.4" fill="#0a0a9c" font-style="italic" textLength="36.9">LPC BUS</text>
<rect x="777.5" y="1274.5" width="105.0" height="56.0" fill="none" stroke="#000" stroke-width="3"/>
<text x="815.7" y="1291.4" class="r" font-size="11.6" font-style="italic" textLength="25.0">TPM</text>
<text x="791.4" y="1302.8" class="r" font-size="11.6" font-style="italic" textLength="87.6">NPCT650AA0WX</text>
<text x="867.7" y="1323.7" class="a" font-size="7.4" fill="#c80a28" font-weight="bold" letter-spacing="0.9">91</text>
<rect x="966.5" y="1281.5" width="133.0" height="42.0" fill="none" stroke="#000" stroke-width="3"/>
<text x="973.4" y="1305.9" class="r" font-size="11.6" font-style="italic" textLength="79.8">LPC debug  port</text>
<text x="1077.9" y="1316.7" class="a" font-size="7.4" fill="#c80a28" font-weight="bold" letter-spacing="0.9">68</text>
<path d="M1128.0,1358.3 L1140.8,1344.1 L1140.8,1351.2 L1184.2,1351.2 L1184.2,1344.1 L1197.0,1358.3 L1184.2,1372.5 L1184.2,1365.4 L1140.8,1365.4 L1140.8,1372.5 Z" fill="#fff" stroke="#000" stroke-width="1"/>
<path d="M1128.0,1414.7 L1140.8,1400.5 L1140.8,1407.6 L1184.2,1407.6 L1184.2,1400.5 L1197.0,1414.7 L1184.2,1428.9 L1184.2,1421.8 L1140.8,1421.8 L1140.8,1428.9 Z" fill="#fff" stroke="#000" stroke-width="1"/>
<text x="1147.9" y="1415.9" class="r" font-size="9.6" fill="#0a0a9c" font-style="italic" textLength="27.8">SMBus</text>
<path d="M861.3,1436.8 L875.7,1449.6 L868.3,1449.6 L868.3,1463.6 L875.7,1463.6 L861.3,1476.4 L846.9,1463.6 L854.3,1463.6 L854.3,1449.6 L846.9,1449.6 Z" fill="#fff" stroke="#000" stroke-width="1"/>
<path d="M1085.1,1436.8 L1099.5,1449.6 L1092.1,1449.6 L1092.1,1463.6 L1099.5,1463.6 L1085.1,1476.4 L1070.7,1463.6 L1078.1,1463.6 L1078.1,1449.6 L1070.7,1449.6 Z" fill="#fff" stroke="#000" stroke-width="1"/>
<path d="M969.9,1436 L980.5,1442.2 H973.5 V1547.4 H980.5 L969.9,1554 L959.1,1547.4 H966.5 V1442.2 H959.1 Z" fill="#fff" stroke="#000" stroke-width="1"/>
<text class="a" font-size="4.6" font-weight="bold" transform="translate(971.6,1531) rotate(-90)" textLength="42.5">I2C TPCLK/DATA</text>
<text x="980.9" y="1514.0" class="a" font-size="9.6" fill="#0a0a9c" textLength="32.1" stroke="#0a0a9c" stroke-width="0.15">I2C/PS2</text>
<rect x="819.5" y="1337.5" width="308.0" height="98.0" fill="none" stroke="#000" stroke-width="3"/>
<text x="952.1" y="1376.1" class="r" font-size="12.8" font-style="italic" textLength="25.0">KBC</text>
<text x="931.4" y="1398.1" class="r" font-size="13.6" font-weight="bold" font-style="italic" textLength="62.1">KB9038QA</text>
<text x="1098.7" y="1421.8" class="a" font-size="7.4" fill="#c80a28" font-weight="bold" letter-spacing="0.9">24</text>
<rect x="1197.5" y="1330.5" width="147.0" height="49.0" fill="none" stroke="#000" stroke-width="3"/>
<text x="1239.7" y="1347.7" class="r" font-size="11.6" font-style="italic" textLength="41.3">Thermal</text>
<text x="1224.9" y="1366.6" class="r" font-size="9.6" fill="#c80a28" font-style="italic" textLength="62.5">TSM0B104F425</text>
<text x="1315.9" y="1372.6" class="a" font-size="7.4" fill="#c80a28" font-weight="bold" letter-spacing="0.9">26</text>
<rect x="1197.5" y="1393.5" width="147.0" height="49.0" fill="none" stroke="#000" stroke-width="3"/>
<text x="1211.9" y="1417.6" class="r" font-size="11.6" font-style="italic" textLength="38.5">Charger</text>
<text x="1210.2" y="1429.5" class="r" font-size="9.6" fill="#c80a28" font-style="italic" textLength="66.8">HPA02224RGRR</text>
<text x="1329.7" y="1428.3" class="a" font-size="7.4" fill="#c80a28" font-weight="bold" letter-spacing="0.9">44</text>
<rect x="819.5" y="1477.5" width="84.0" height="35.0" fill="none" stroke="#000" stroke-width="3"/>
<text x="832.6" y="1494.9" class="a" font-size="10.7" font-weight="bold" textLength="57.7" stroke="#000" stroke-width="0.2">Linear FAN</text>
<text x="853.7" y="1505.9" class="a" font-size="7.4" fill="#c80a28" font-weight="bold" letter-spacing="0.9">26</text>
<rect x="1050.5" y="1477.5" width="77.0" height="35.0" fill="none" stroke="#000" stroke-width="3"/>
<text x="1063.7" y="1494.9" class="a" font-size="10.7" font-weight="bold" textLength="41.0" stroke="#000" stroke-width="0.2">KB KBL</text>
<text x="1098.7" y="1505.9" class="a" font-size="7.4" fill="#c80a28" font-weight="bold" letter-spacing="0.9">65</text>
<rect x="917.5" y="1554.5" width="98.0" height="35.0" fill="none" stroke="#000" stroke-width="3"/>
<text x="938.4" y="1571.5" class="a" font-size="10.7" font-weight="bold" textLength="57.7" stroke="#000" stroke-width="0.2">Touch PAD</text>
<text x="979.9" y="1582.9" class="a" font-size="7.4" fill="#c80a28" font-weight="bold" letter-spacing="0.9">65</text>
<text x="1631.8" y="135.7" class="a" font-size="9.3" textLength="74.4" stroke="#000" stroke-width="0.15">LT415L LT415C</text>
<text x="1735.9" y="135.7" class="a" font-size="9.3" textLength="71.4" stroke="#000" stroke-width="0.15">4PD03N010001</text>
<text x="1631.8" y="145.7" class="a" font-size="9.3" textLength="76.4" stroke="#000" stroke-width="0.15">LC415L LC415C</text>
<text x="1735.0" y="145.7" class="a" font-size="9.3" textLength="72.3" stroke="#000" stroke-width="0.15">4PD03R010001</text>
<text x="1631.8" y="156.6" class="a" font-size="9.3" textLength="76.4" stroke="#000" stroke-width="0.15">LC515L LC515C</text>
<text x="1735.0" y="156.6" class="a" font-size="9.3" textLength="72.3" stroke="#000" stroke-width="0.15">4PD03S010001</text>
<text x="1631.8" y="167.6" class="a" font-size="9.3" textLength="54.4" stroke="#000" stroke-width="0.15">Main Board</text>
<text x="1779.0" y="167.6" class="a" font-size="9.3" textLength="28.3" stroke="#000" stroke-width="0.15">14235</text>
<text x="1631.8" y="177.7" class="a" font-size="9.3" textLength="41.3" stroke="#000" stroke-width="0.15">IO Board</text>
<text x="1781.1" y="177.7" class="a" font-size="9.3" textLength="26.2" stroke="#000" stroke-width="0.15">14882</text>
<text x="1631.8" y="188.8" class="a" font-size="9.3" textLength="127.3" stroke="#000" stroke-width="0.15">GSensor + Hall Sensor BD</text>
<text x="1781.1" y="188.8" class="a" font-size="9.3" textLength="26.2" stroke="#000" stroke-width="0.15">14875</text>
<text x="1631.8" y="199.7" class="a" font-size="9.3" textLength="87.2" stroke="#000" stroke-width="0.15">Hall Sensor Board</text>
<text x="1781.1" y="199.7" class="a" font-size="9.3" textLength="26.2" stroke="#000" stroke-width="0.15">14876</text>
<rect x="1820.5" y="126.5" width="161.0" height="700.0" fill="none" stroke="#000" stroke-width="3"/>
<text x="1833.9" y="137.7" class="a" font-size="9.7" font-weight="bold" textLength="52.1" stroke="#000" stroke-width="0.2">CHARGER</text>
<text x="1834.3" y="151.5" class="a" font-size="10" font-weight="bold" textLength="85.1" stroke="#000" stroke-width="0.2">HPA02224RGRR</text>
<text x="1960.0" y="150.7" class="a" font-size="9.6" textLength="13.2" stroke="#000" stroke-width="0.15">44</text>
<path d="M1822,154.6 H1980" fill="none" stroke="#000" stroke-width="1"/>
<text x="1833.9" y="164.5" class="a" font-size="10.4" textLength="41.3" stroke="#000" stroke-width="0.15">INPUTS</text>
<text x="1910.8" y="164.5" class="a" font-size="10.4" textLength="50.3" stroke="#000" stroke-width="0.15">OUTPUTS</text>
<path d="M1822,168.5 H1980" fill="none" stroke="#000" stroke-width="1"/>
<path d="M1897.5,154.6 V182" fill="none" stroke="#000" stroke-width="1"/>
<text x="1827.7" y="176.9" class="a" font-size="8" textLength="67.0" stroke="#000" stroke-width="0.15">19V_DCBATOUT</text>
<text x="1925.6" y="176.9" class="a" font-size="8" textLength="14.6" stroke="#000" stroke-width="0.15">BT+</text>
<path d="M1819,181.8 H1983" fill="none" stroke="#000" stroke-width="3"/>
<text x="1833.9" y="193.6" class="a" font-size="9.7" font-weight="bold" font-style="italic" textLength="87.4" stroke="#000" stroke-width="0.2">SYSTEM DC/DC</text>
<text x="1834.3" y="207.5" class="a" font-size="10" font-weight="bold" textLength="78.9" stroke="#000" stroke-width="0.2">RT6575DGQW</text>
<text x="1960.0" y="206.5" class="a" font-size="9.6" textLength="12.8" stroke="#000" stroke-width="0.15">45</text>
<path d="M1822,210.6 H1980" fill="none" stroke="#000" stroke-width="1"/>
<text x="1833.9" y="220.4" class="a" font-size="10.4" textLength="41.3" stroke="#000" stroke-width="0.15">INPUTS</text>
<text x="1910.8" y="220.4" class="a" font-size="10.4" textLength="50.3" stroke="#000" stroke-width="0.15">OUTPUTS</text>
<path d="M1822,224.5 H1980" fill="none" stroke="#000" stroke-width="1"/>
<path d="M1897.5,210.6 V245" fill="none" stroke="#000" stroke-width="1"/>
<text x="1827.7" y="239.7" class="a" font-size="8" textLength="67.0" stroke="#000" stroke-width="0.15">19V_DCBATOUT</text>
<text x="1911.4" y="232.5" class="a" font-size="8" textLength="25.9" stroke="#000" stroke-width="0.15">5V_S5</text>
<text x="1910.8" y="239.7" class="a" font-size="8" textLength="37.3" stroke="#000" stroke-width="0.15">3D3V_S5</text>
<path d="M1819,245 H1983" fill="none" stroke="#000" stroke-width="3"/>
<text x="1833.9" y="256.6" class="a" font-size="9.7" font-weight="bold" font-style="italic" textLength="61.4" stroke="#000" stroke-width="0.2">CPU  DC/DC</text>
<text x="1834.3" y="270.6" class="a" font-size="10" font-weight="bold" textLength="78.5" stroke="#000" stroke-width="0.2">RT8179CGQW</text>
<text x="1938.9" y="269.8" class="a" font-size="9.6" textLength="31.4" stroke="#000" stroke-width="0.15">46-48</text>
<path d="M1822,273.7 H1980" fill="none" stroke="#000" stroke-width="1"/>
<text x="1833.9" y="283.4" class="a" font-size="10.4" textLength="41.3" stroke="#000" stroke-width="0.15">INPUTS</text>
<text x="1903.7" y="283.4" class="a" font-size="10.4" textLength="50.3" stroke="#000" stroke-width="0.15">OUTPUTS</text>
<path d="M1822,287.5 H1980" fill="none" stroke="#000" stroke-width="1"/>
<path d="M1897.5,273.7 V308" fill="none" stroke="#000" stroke-width="1"/>
<text x="1827.7" y="302.7" class="a" font-size="8" textLength="67.0" stroke="#000" stroke-width="0.15">19V_DCBATOUT</text>
<text x="1911.4" y="295.5" class="a" font-size="8" textLength="58.9" stroke="#000" stroke-width="0.15">1V_CPU_CORE</text>
<text x="1910.8" y="302.7" class="a" font-size="8" textLength="52.5" stroke="#000" stroke-width="0.15">APU_VDDNB</text>
<path d="M1819,308.4 H1983" fill="none" stroke="#000" stroke-width="3"/>
<text x="1833.9" y="319.5" class="a" font-size="9.7" font-weight="bold" font-style="italic" textLength="61.4" stroke="#000" stroke-width="0.2">CPU  DC/DC</text>
<text x="1834.3" y="333.4" class="a" font-size="10" font-weight="bold" textLength="78.5" stroke="#000" stroke-width="0.2">RT8179CGQW</text>
<text x="1938.9" y="332.6" class="a" font-size="9.6" textLength="31.8" stroke="#000" stroke-width="0.15">49-50</text>
<path d="M1822,336.5 H1980" fill="none" stroke="#000" stroke-width="1"/>
<text x="1833.9" y="346.4" class="a" font-size="10.4" textLength="41.3" stroke="#000" stroke-width="0.15">INPUTS</text>
<text x="1910.8" y="346.4" class="a" font-size="10.4" textLength="50.3" stroke="#000" stroke-width="0.15">OUTPUTS</text>
<path d="M1822,350.4 H1980" fill="none" stroke="#000" stroke-width="1"/>
<path d="M1897.5,336.5 V364" fill="none" stroke="#000" stroke-width="1"/>
<text x="1827.7" y="358.7" class="a" font-size="8" textLength="67.0" stroke="#000" stroke-width="0.15">19V_DCBATOUT</text>
<text x="1911.4" y="358.7" class="a" font-size="8" textLength="61.8" stroke="#000" stroke-width="0.15">VDDGFX_CORE</text>
<path d="M1819,364.5 H1983" fill="none" stroke="#000" stroke-width="3"/>
<text x="1833.9" y="375.2" class="a" font-size="9.7" font-weight="bold" font-style="italic" textLength="87.4" stroke="#000" stroke-width="0.2">SYSTEM DC/DC</text>
<text x="1834.3" y="389.3" class="a" font-size="10" font-weight="bold" textLength="67.7" stroke="#000" stroke-width="0.2">APL5337KAI</text>
<text x="1960.6" y="388.5" class="a" font-size="9.6" textLength="11.6" stroke="#000" stroke-width="0.15">50</text>
<path d="M1822,392.3 H1980" fill="none" stroke="#000" stroke-width="1"/>
<text x="1833.9" y="402.4" class="a" font-size="10.4" textLength="41.3" stroke="#000" stroke-width="0.15">INPUTS</text>
<text x="1910.8" y="402.4" class="a" font-size="10.4" textLength="50.3" stroke="#000" stroke-width="0.15">OUTPUTS</text>
<path d="M1822,406.3 H1980" fill="none" stroke="#000" stroke-width="1"/>
<path d="M1897.5,392.3 V420" fill="none" stroke="#000" stroke-width="1"/>
<text x="1834.7" y="414.7" class="a" font-size="8" textLength="36.5" stroke="#000" stroke-width="0.15">1D8V_S5</text>
<text x="1911.6" y="414.7" class="a" font-size="8" textLength="46.5" stroke="#000" stroke-width="0.15">0D775V_S5</text>
<path d="M1819,420.3 H1983" fill="none" stroke="#000" stroke-width="3"/>
<text x="1833.9" y="431.0" class="a" font-size="9.7" font-weight="bold" font-style="italic" textLength="87.4" stroke="#000" stroke-width="0.2">SYSTEM DC/DC</text>
<text x="1834.3" y="445.3" class="a" font-size="10" font-weight="bold" textLength="83.9" stroke="#000" stroke-width="0.2">TPS51716RUKR</text>
<path d="M1822,448.3 H1980" fill="none" stroke="#000" stroke-width="1"/>
<text x="1833.9" y="458.2" class="a" font-size="10.4" textLength="41.3" stroke="#000" stroke-width="0.15">INPUTS</text>
<text x="1910.8" y="458.2" class="a" font-size="10.4" textLength="50.3" stroke="#000" stroke-width="0.15">OUTPUTS</text>
<path d="M1822,462.3 H1980" fill="none" stroke="#000" stroke-width="1"/>
<text x="1827.7" y="470.6" class="a" font-size="8" textLength="67.0" stroke="#000" stroke-width="0.15">19V_DCBATOUT</text>
<text x="1883.6" y="477.8" class="a" font-size="8" textLength="92.7" stroke="#000" stroke-width="0.15">1D35V_CPU_VDDQ_S3</text>
<text x="1911.6" y="491.6" class="a" font-size="8" textLength="46.5" stroke="#000" stroke-width="0.15">0D675V_S0</text>
<path d="M1819,497.4 H1983" fill="none" stroke="#000" stroke-width="3"/>
<text x="1833.9" y="508.3" class="a" font-size="9.7" font-weight="bold" font-style="italic" textLength="87.4" stroke="#000" stroke-width="0.2">SYSTEM DC/DC</text>
<text x="1834.3" y="522.4" class="a" font-size="10" font-weight="bold" textLength="66.9" stroke="#000" stroke-width="0.2">AOZ1268QI</text>
<text x="1960.6" y="521.6" class="a" font-size="9.6" textLength="11.6" stroke="#000" stroke-width="0.15">51</text>
<path d="M1822,525.6 H1980" fill="none" stroke="#000" stroke-width="1"/>
<text x="1833.9" y="535.5" class="a" font-size="10.4" textLength="41.3" stroke="#000" stroke-width="0.15">INPUTS</text>
<text x="1910.8" y="535.5" class="a" font-size="10.4" textLength="50.3" stroke="#000" stroke-width="0.15">OUTPUTS</text>
<path d="M1822,539.5 H1980" fill="none" stroke="#000" stroke-width="1"/>
<path d="M1897.5,525.6 V553" fill="none" stroke="#000" stroke-width="1"/>
<text x="1827.7" y="547.7" class="a" font-size="8" textLength="67.0" stroke="#000" stroke-width="0.15">19V_DCBATOUT</text>
<text x="1911.6" y="547.7" class="a" font-size="8" textLength="41.8" stroke="#000" stroke-width="0.15">0D95V_S5</text>
<path d="M1819,553.2 H1983" fill="none" stroke="#000" stroke-width="3"/>
<text x="1833.9" y="564.2" class="a" font-size="9.7" font-weight="bold" font-style="italic" textLength="87.4" stroke="#000" stroke-width="0.2">SYSTEM DC/DC</text>
<text x="1834.3" y="579.0" class="a" font-size="10" font-weight="bold" textLength="71.2" stroke="#000" stroke-width="0.2">RT8509GQW</text>
<text x="1960.6" y="578.0" class="a" font-size="9.6" textLength="11.6" stroke="#000" stroke-width="0.15">53</text>
<path d="M1822,581.5 H1980" fill="none" stroke="#000" stroke-width="1"/>
<text x="1833.9" y="592.4" class="a" font-size="10.4" textLength="41.3" stroke="#000" stroke-width="0.15">INPUTS</text>
<text x="1910.8" y="592.4" class="a" font-size="10.4" textLength="50.3" stroke="#000" stroke-width="0.15">OUTPUTS</text>
<path d="M1822,595.5 H1980" fill="none" stroke="#000" stroke-width="1"/>
<path d="M1897.5,581.5 V609" fill="none" stroke="#000" stroke-width="1"/>
<text x="1827.7" y="603.7" class="a" font-size="8" textLength="25.6" stroke="#000" stroke-width="0.15">5V_S0</text>
<text x="1911.6" y="603.7" class="a" font-size="8" textLength="35.4" stroke="#000" stroke-width="0.15">15V_LCD</text>
<path d="M1819,609.5 H1983" fill="none" stroke="#000" stroke-width="3"/>
<text x="1833.9" y="621.0" class="a" font-size="9.7" font-weight="bold" font-style="italic" textLength="87.4" stroke="#000" stroke-width="0.2">SYSTEM DC/DC</text>
<text x="1834.3" y="635.3" class="a" font-size="10" font-weight="bold" textLength="99.3" stroke="#000" stroke-width="0.2">ISL62771HRTZ-T</text>
<text x="1960.6" y="634.3" class="a" font-size="9.6" textLength="11.6" stroke="#000" stroke-width="0.15">85</text>
<path d="M1822,637.5 H1980" fill="none" stroke="#000" stroke-width="1"/>
<text x="1833.9" y="648.2" class="a" font-size="10.4" textLength="41.3" stroke="#000" stroke-width="0.15">INPUTS</text>
<text x="1910.8" y="648.2" class="a" font-size="10.4" textLength="50.3" stroke="#000" stroke-width="0.15">OUTPUTS</text>
<path d="M1822,651.6 H1980" fill="none" stroke="#000" stroke-width="1"/>
<path d="M1897.5,637.5 V665" fill="none" stroke="#000" stroke-width="1"/>
<text x="1827.7" y="659.6" class="a" font-size="8" textLength="67.0" stroke="#000" stroke-width="0.15">19V_DCBATOUT</text>
<text x="1904.6" y="659.6" class="a" font-size="8" textLength="70.7" stroke="#000" stroke-width="0.15">1V_VGACORE_S0</text>
<path d="M1819,665.5 H1983" fill="none" stroke="#000" stroke-width="3"/>
<text x="1833.9" y="677.4" class="a" font-size="10.2" font-weight="bold" font-style="italic" textLength="47.3" stroke="#000" stroke-width="0.2">Switches</text>
<text x="1945.9" y="676.7" class="a" font-size="9.6" textLength="29.5" stroke="#000" stroke-width="0.15">40 86</text>
<path d="M1822,679.5 H1980" fill="none" stroke="#000" stroke-width="1"/>
<text x="1833.9" y="690.6" class="a" font-size="10.4" textLength="41.3" stroke="#000" stroke-width="0.15">INPUTS</text>
<text x="1910.8" y="690.6" class="a" font-size="10.4" textLength="50.3" stroke="#000" stroke-width="0.15">OUTPUTS</text>
<path d="M1822,693.2 H1980" fill="none" stroke="#000" stroke-width="1"/>
<path d="M1897.5,679.5 V756.8" fill="none" stroke="#000" stroke-width="1"/>
<text x="1827.2" y="701.7" class="a" font-size="8" textLength="52.0" stroke="#000" stroke-width="0.15">APU_VDDNB</text>
<text x="1827.8" y="710.6" class="a" font-size="8" textLength="46.5" stroke="#000" stroke-width="0.15">0D775V_S5</text>
<text x="1904.0" y="708.7" class="a" font-size="8" textLength="65.3" stroke="#000" stroke-width="0.15">VDDCR_FCH_S5</text>
<text x="1826.9" y="729.5" class="a" font-size="8" textLength="37.3" stroke="#000" stroke-width="0.15">3D3V_S0</text>
<text x="1904.0" y="729.5" class="a" font-size="8" textLength="60.3" stroke="#000" stroke-width="0.15">3D3V_VGA_S0</text>
<text x="1827.8" y="738.4" class="a" font-size="8" textLength="36.4" stroke="#000" stroke-width="0.15">1D8V_S0</text>
<text x="1904.6" y="738.4" class="a" font-size="8" textLength="59.7" stroke="#000" stroke-width="0.15">1D8V_VGA_S0</text>
<text x="1827.8" y="746.5" class="a" font-size="8" textLength="41.2" stroke="#000" stroke-width="0.15">0D95V_S0</text>
<text x="1904.6" y="746.5" class="a" font-size="8" textLength="64.7" stroke="#000" stroke-width="0.15">0D95V_VGA_S0</text>
<text x="1827.8" y="754.6" class="a" font-size="8" textLength="92.3" stroke="#000" stroke-width="0.15">1D35V_CPU_VDDQ_S3</text>
<text x="1904.6" y="763.7" class="a" font-size="8" textLength="64.7" stroke="#000" stroke-width="0.15">1D35V_VGA_S0</text>
<path d="M1819,777.5 H1983" fill="none" stroke="#000" stroke-width="3"/>
<text x="1833.6" y="788.5" class="a" font-size="10.4" textLength="58.4" stroke="#000" stroke-width="0.15">PCBA Layer</text>
<text x="1889.8" y="799.6" class="a" font-size="8" textLength="9.0" stroke="#000" stroke-width="0.15">L1</text>
<text x="1904.0" y="799.6" class="a" font-size="8" textLength="15.0" stroke="#000" stroke-width="0.15">TOP</text>
<text x="1931.6" y="799.6" class="a" font-size="8" textLength="9.4" stroke="#000" stroke-width="0.15">L4</text>
<text x="1945.9" y="799.6" class="a" font-size="8" textLength="22.3" stroke="#000" stroke-width="0.15">Signal</text>
<text x="1889.8" y="808.5" class="a" font-size="8" textLength="9.0" stroke="#000" stroke-width="0.15">L2</text>
<text x="1904.0" y="808.5" class="a" font-size="8" textLength="15.0" stroke="#000" stroke-width="0.15">VCC</text>
<text x="1931.6" y="808.5" class="a" font-size="8" textLength="9.4" stroke="#000" stroke-width="0.15">L5</text>
<text x="1945.9" y="808.5" class="a" font-size="8" textLength="17.1" stroke="#000" stroke-width="0.15">GND</text>
<text x="1889.8" y="816.6" class="a" font-size="8" textLength="9.0" stroke="#000" stroke-width="0.15">L3</text>
<text x="1904.0" y="816.6" class="a" font-size="8" textLength="22.3" stroke="#000" stroke-width="0.15">Signal</text>
<text x="1931.6" y="816.6" class="a" font-size="8" textLength="9.4" stroke="#000" stroke-width="0.15">L6</text>
<text x="1945.9" y="816.6" class="a" font-size="8" textLength="26.2" stroke="#000" stroke-width="0.15">Bottom</text>
<path d="M2051.5,1630.5 V1539.5 H2310.5" fill="none" stroke="#000" stroke-width="1"/>
<path d="M2051.5,1581.5 H2310.5 M2051.5,1602.5 H2310.5 M2051.5,1623.5 H2310.5 M2072.5,1602.5 V1623.5 M2282.5,1602.5 V1623.5 M2191.5,1623.5 V1630.5" fill="none" stroke="#000" stroke-width="1"/>
<text x="2052.0" y="1533.0" class="a" font-size="5" font-weight="bold" textLength="76.0">CZL MUX 455.04E01.M013</text>
<text x="2171.0" y="1557.9" class="a" font-size="13.2" font-weight="bold" textLength="127.4" stroke="#000" stroke-width="0.2">Wistron Corporation</text>
<text x="2171.0" y="1566.0" class="a" font-size="4.8" font-weight="bold" textLength="113.0">21F, 88, Sec.1, Hsin Tai Wu Rd., Hsichih,</text>
<text x="2171.0" y="1571.5" class="a" font-size="4.8" font-weight="bold" textLength="91.0">Taipei Hsien 221, Taiwan, R.O.C.</text>
<text x="2052.5" y="1586.5" class="a" font-size="4.8" font-weight="bold">Title</text>
<text x="2128.9" y="1599.4" class="a" font-size="12.8" font-weight="bold" font-style="italic" textLength="90.1" stroke="#000" stroke-width="0.2">Block Diagram</text>
<text x="2052.5" y="1607.5" class="a" font-size="4.8" font-weight="bold">Size</text>
<text x="2052.5" y="1614.0" class="a" font-size="4.8" font-weight="bold">A1</text>
<text x="2079.9" y="1607.5" class="a" font-size="4.8" font-weight="bold" textLength="51.1">Document Number</text>
<text x="2129.5" y="1620.6" class="a" font-size="13" textLength="97.4" stroke="#000" stroke-width="0.15">Franky  CZ/CZ-L</text>
<text x="2283.5" y="1607.5" class="a" font-size="4.8" font-weight="bold">Rev</text>
<text x="2290.0" y="1618.3" class="a" font-size="10.5" textLength="9.5" stroke="#000" stroke-width="0.15">-3</text>
<text x="2052.5" y="1629.0" class="a" font-size="4.8" font-weight="bold">Date:</text>
<text x="2074.0" y="1627.3" class="a" font-size="4.8" font-weight="bold" textLength="62.0">Tuesday, May 12, 2015</text>
<text x="2193.0" y="1629.0" class="a" font-size="4.8" font-weight="bold" textLength="13.0">Sheet</text>
<text x="2220.0" y="1629.0" class="a" font-size="4.8" font-weight="bold">2</text>
<text x="2248.0" y="1629.0" class="a" font-size="4.8" font-weight="bold">of</text>
<text x="2283.5" y="1629.0" class="a" font-size="4.8" font-weight="bold">105</text>
<g fill="none" stroke="#000" stroke-width="1.5" transform="translate(2078,1549.5) skewX(-16) scale(0.95,1)">
<path d="M6,1 l-3,5 l4,0 l-5,6 M1,13 l5,-2 M4,9 l0,7 M9,2 l8,0 M13,0 l0,16 M9,5 l7,0 l0,3 l-7,0 z M9,11 l8,0 M10,8 l0,6"/>
<path d="M27,0 l-6,5 M27,0 l5,4 M23,5 l7,0 M23,5 l0,6 l7,0 l0,-6 M23,8 l7,0 M21,14 l10,-1 M34,3 l0,8 M38,0 l0,15 l-2,1"/>
<path d="M46,1 l2,2 M46,4 l2,2 M52,0 l-2,4 M51,2 l8,0 l-2,3 M49,6 l8,0 l0,7 l-8,0 z M49,8.5 l8,0 M49,11 l8,0 M51,13 l-4,3 M56,13 l3,3"/>
<path d="M66,1 l2,2 M65,6 l3,0 l0,7 l-2,2 M67,14 l4,2 l10,0 M71,1 l9,0 l-3,2 M71,4 l9,0 l0,9 M71,4 l0,9 M71,7 l9,0 M71,10 l9,0 M75.5,4 l0,9"/>
</g>
</svg>
</body></html>
